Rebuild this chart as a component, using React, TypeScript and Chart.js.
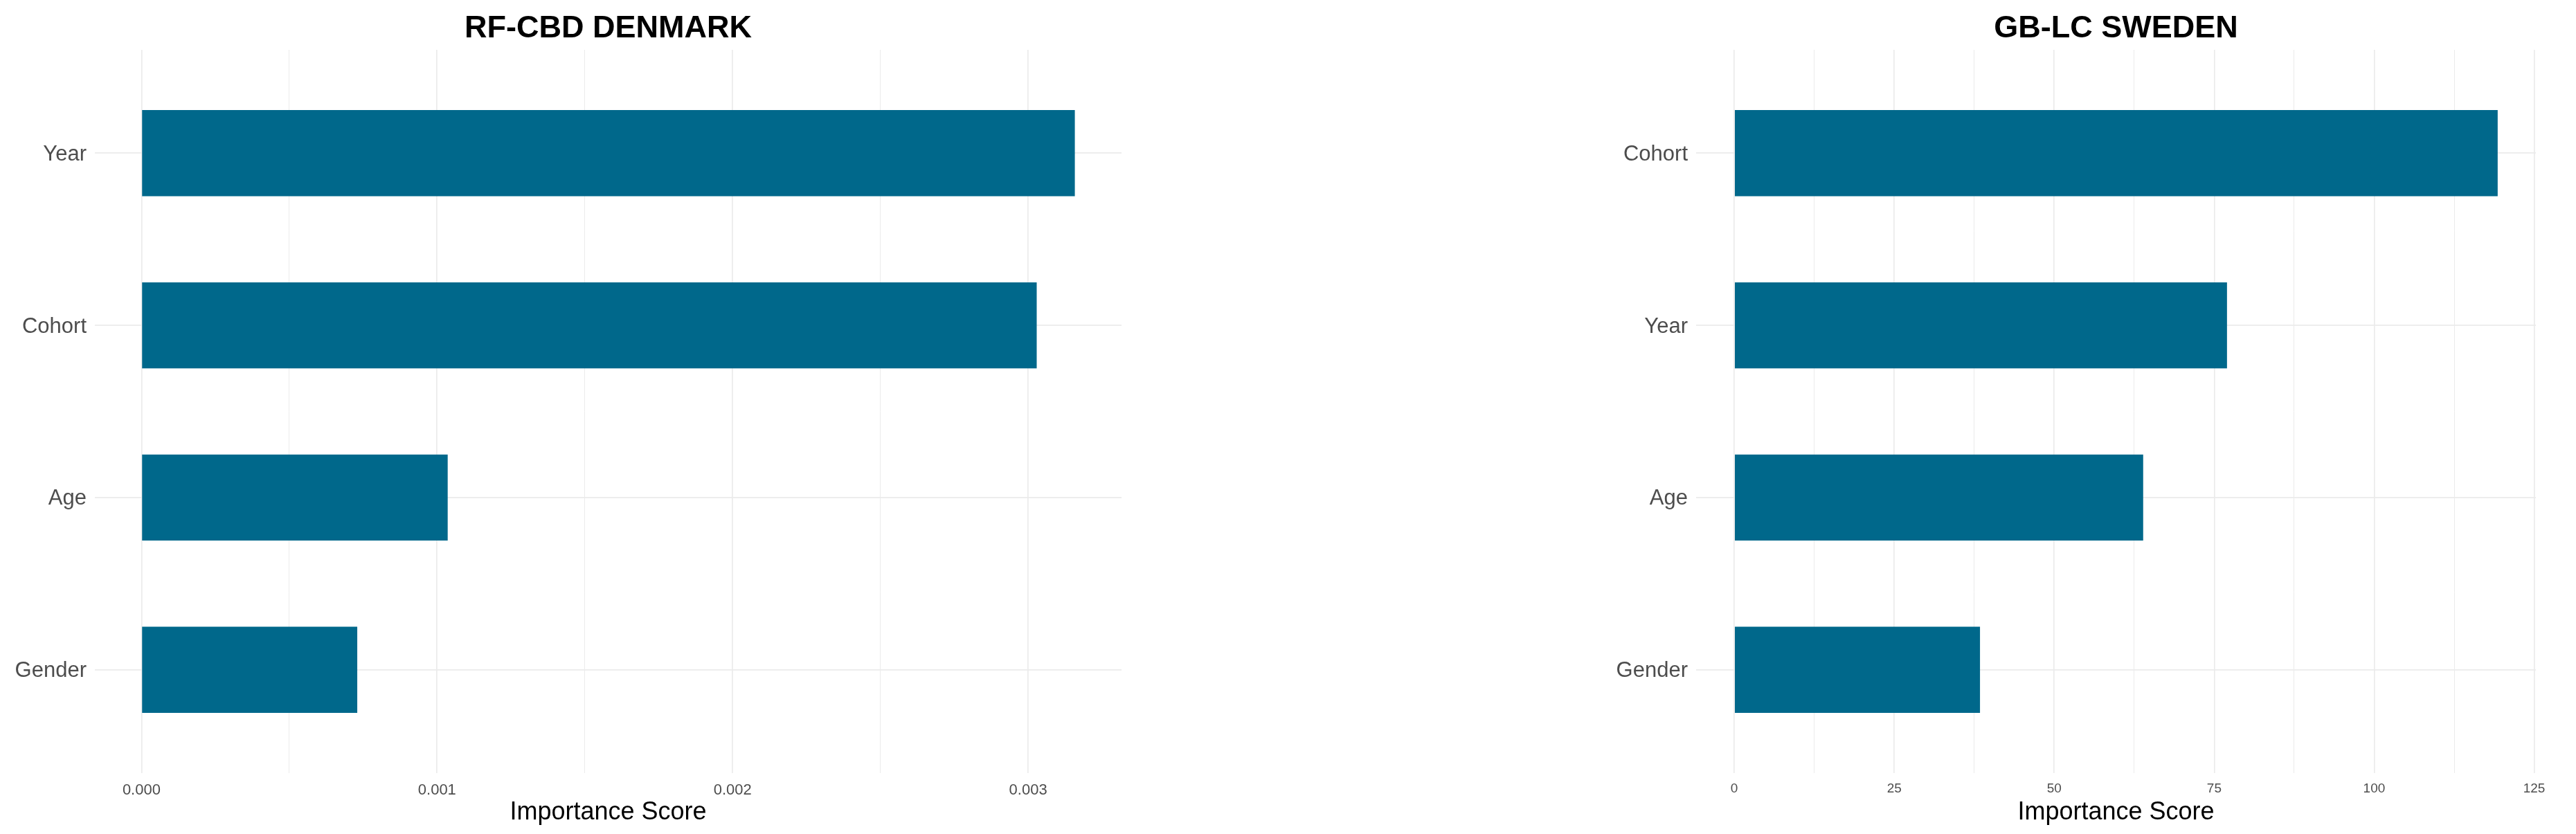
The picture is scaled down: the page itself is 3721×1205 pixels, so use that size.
import React, { useEffect, useRef } from "react";
import { Chart, registerables } from "chart.js";

Chart.register(...registerables);

const FONT = "'Liberation Sans', Arial, Helvetica, sans-serif";
const BAR_COLOR = "#00688B";
const GRID_COLOR = "#EBEBEB";
const AXIS_TEXT = "#4D4D4D";

// Left panel data
const denmarkTitle = "RF-CBD DENMARK";
const denmarkCategories = ["Year", "Cohort", "Age", "Gender"];
const denmarkValues = [0.003158, 0.003029, 0.001036, 0.00073];
const denmarkMajorTicks = [0, 0.001, 0.002, 0.003];

// Right panel data
const swedenTitle = "GB-LC SWEDEN";
const swedenCategories = ["Cohort", "Year", "Age", "Gender"];
const swedenValues = [119.3, 77.0, 63.9, 38.4];
const swedenMajorTicks = [0, 25, 50, 75, 100, 125];

const xAxisTitle = "Importance Score";

type PanelProps = {
  left: number;
  width: number;
  yAxisWidth: number;
  padRight: number;
  title: string;
  categories: string[];
  values: number[];
  majorTicks: number[];
  decimals: number;
  tickSize: number;
  tickPad: number;
};

function Panel(p: PanelProps) {
  const ref = useRef<HTMLCanvasElement | null>(null);

  useEffect(() => {
    if (!ref.current) return;
    const maxV = Math.max(...p.values);
    const expand = maxV * 0.05;
    const tickObjs: { value: number; isMajor: boolean }[] = [];
    p.majorTicks.forEach((m, i) => {
      tickObjs.push({ value: m, isMajor: true });
      if (i < p.majorTicks.length - 1) {
        tickObjs.push({ value: (m + p.majorTicks[i + 1]) / 2, isMajor: false });
      }
    });

    const chart = new Chart(ref.current, {
      type: "bar",
      data: {
        datasets: [
          {
            data: p.values.map((v, i) => ({ x: v, y: i + 1 })) as any,
            backgroundColor: BAR_COLOR,
            borderWidth: 0,
            barPercentage: 0.5,
            categoryPercentage: 1,
          },
        ],
      },
      options: {
        indexAxis: "y",
        animation: false,
        responsive: false,
        maintainAspectRatio: false,
        layout: { padding: { left: 0, top: 0, right: p.padRight, bottom: 0 } },
        plugins: {
          legend: { display: false },
          tooltip: { enabled: false },
          title: {
            display: true,
            text: p.title,
            fullSize: false,
            color: "#000000",
            font: { family: FONT, size: 45, weight: "bold" },
            padding: { top: 15, bottom: 3 },
          },
        },
        scales: {
          x: {
            type: "linear",
            min: -expand,
            max: maxV + expand,
            offset: false,
            border: { display: false },
            grid: {
              color: GRID_COLOR,
              drawTicks: false,
              offset: false,
              lineWidth: (ctx: any) => (ctx.tick && ctx.tick.isMajor ? 1.7 : 1),
            },
            afterBuildTicks: (axis: any) => {
              axis.ticks = tickObjs.map((t) => ({ ...t }));
            },
            afterFit: (axis: any) => {
              axis.height = 88;
            },
            ticks: {
              autoSkip: false,
              maxRotation: 0,
              padding: p.tickPad,
              color: AXIS_TEXT,
              font: { family: FONT, size: p.tickSize },
              callback: (value: any, index: number, ticks: any[]) =>
                ticks[index] && ticks[index].isMajor ? Number(value).toFixed(p.decimals) : "",
            },
            title: {
              display: true,
              text: xAxisTitle,
              color: "#000000",
              font: { family: FONT, size: 36 },
              padding: { top: 0, bottom: 9 },
            },
          },
          y: {
            type: "linear",
            reverse: true,
            min: 0.4,
            max: p.categories.length + 0.6,
            offset: false,
            border: { display: false },
            grid: { color: GRID_COLOR, drawTicks: false, offset: false, lineWidth: 1.7 },
            afterBuildTicks: (axis: any) => {
              axis.ticks = p.categories.map((_, i) => ({ value: i + 1 }));
            },
            afterFit: (axis: any) => {
              axis.width = p.yAxisWidth;
            },
            ticks: {
              autoSkip: false,
              padding: 12,
              labelOffset: 2,
              color: AXIS_TEXT,
              font: { family: FONT, size: 31 },
              callback: (value: any) => p.categories[Math.round(Number(value)) - 1] ?? "",
            },
          },
        },
      } as any,
    });
    return () => chart.destroy();
  }, []);

  return (
    <canvas
      ref={ref}
      width={p.width}
      height={1205}
      style={{ position: "absolute", left: p.left, top: 0, width: p.width, height: 1205 }}
    />
  );
}

export default function App() {
  return (
    <div
      style={{
        position: "absolute",
        left: 0,
        top: 0,
        width: 3721,
        height: 1205,
        background: "#ffffff",
        overflow: "hidden",
      }}
    >
      <Panel
        left={0}
        width={1700}
        yAxisWidth={137}
        padRight={80}
        title={denmarkTitle}
        categories={denmarkCategories}
        values={denmarkValues}
        majorTicks={denmarkMajorTicks}
        decimals={3}
        tickSize={22}
        tickPad={12}
      />
      <Panel
        left={2300}
        width={1421}
        yAxisWidth={150}
        padRight={58}
        title={swedenTitle}
        categories={swedenCategories}
        values={swedenValues}
        majorTicks={swedenMajorTicks}
        decimals={0}
        tickSize={19}
        tickPad={11}
      />
    </div>
  );
}
